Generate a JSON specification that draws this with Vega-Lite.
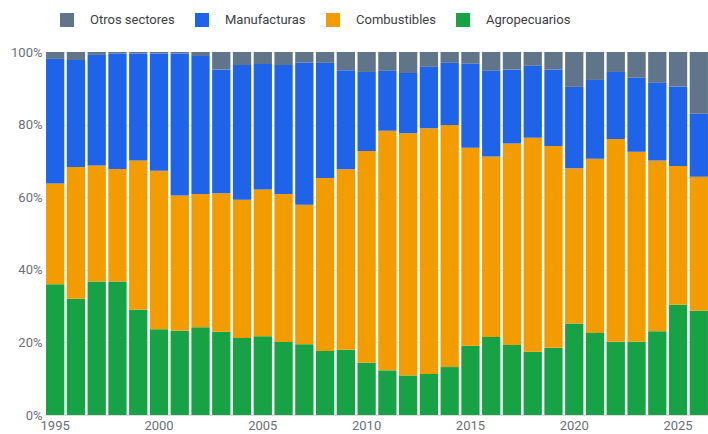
{
  "$schema": "https://vega.github.io/schema/vega-lite/v6.json",
  "width": 664,
  "height": 363,
  "autosize": {"type": "none"},
  "padding": {"left": 45, "top": 52, "right": 0, "bottom": 19},
  "config": {
    "font": "Roboto",
    "view": {"stroke": null},
    "axis": {"labelFont": "Roboto", "labelFontSize": 13, "labelColor": "#6b6f75", "ticks": false, "title": null},
    "legend": {"labelFont": "Roboto"}
  },
  "datasets": {
    "wide": [
      {"year": 1995, "A": 36.0, "C": 27.8, "M": 34.3, "O": 1.9},
      {"year": 1996, "A": 32.0, "C": 36.3, "M": 29.5, "O": 2.2},
      {"year": 1997, "A": 36.8, "C": 31.9, "M": 30.5, "O": 0.8},
      {"year": 1998, "A": 36.8, "C": 31.0, "M": 31.8, "O": 0.4},
      {"year": 1999, "A": 29.0, "C": 41.1, "M": 29.5, "O": 0.4},
      {"year": 2000, "A": 23.6, "C": 43.7, "M": 32.3, "O": 0.4},
      {"year": 2001, "A": 23.2, "C": 37.3, "M": 39.1, "O": 0.4},
      {"year": 2002, "A": 24.2, "C": 36.7, "M": 38.0, "O": 1.1},
      {"year": 2003, "A": 22.9, "C": 38.2, "M": 34.1, "O": 4.8},
      {"year": 2004, "A": 21.2, "C": 38.1, "M": 37.1, "O": 3.6},
      {"year": 2005, "A": 21.7, "C": 40.4, "M": 34.6, "O": 3.3},
      {"year": 2006, "A": 20.1, "C": 40.8, "M": 35.5, "O": 3.6},
      {"year": 2007, "A": 19.5, "C": 38.4, "M": 39.2, "O": 2.9},
      {"year": 2008, "A": 17.6, "C": 47.7, "M": 31.7, "O": 3.0},
      {"year": 2009, "A": 18.0, "C": 49.7, "M": 27.3, "O": 5.0},
      {"year": 2010, "A": 14.4, "C": 58.3, "M": 21.8, "O": 5.5},
      {"year": 2011, "A": 12.3, "C": 66.0, "M": 16.5, "O": 5.2},
      {"year": 2012, "A": 10.9, "C": 66.7, "M": 16.6, "O": 5.8},
      {"year": 2013, "A": 11.3, "C": 67.7, "M": 16.9, "O": 4.1},
      {"year": 2014, "A": 13.2, "C": 66.7, "M": 17.1, "O": 3.0},
      {"year": 2015, "A": 19.1, "C": 54.5, "M": 23.2, "O": 3.2},
      {"year": 2016, "A": 21.5, "C": 49.7, "M": 23.6, "O": 5.2},
      {"year": 2017, "A": 19.3, "C": 55.5, "M": 20.4, "O": 4.8},
      {"year": 2018, "A": 17.4, "C": 59.0, "M": 19.8, "O": 3.8},
      {"year": 2019, "A": 18.5, "C": 55.6, "M": 21.1, "O": 4.8},
      {"year": 2020, "A": 25.2, "C": 42.8, "M": 22.4, "O": 9.6},
      {"year": 2021, "A": 22.6, "C": 48.0, "M": 21.7, "O": 7.7},
      {"year": 2022, "A": 20.2, "C": 55.8, "M": 18.5, "O": 5.5},
      {"year": 2023, "A": 20.2, "C": 52.3, "M": 20.4, "O": 7.1},
      {"year": 2024, "A": 23.1, "C": 47.0, "M": 21.4, "O": 8.5},
      {"year": 2025, "A": 30.4, "C": 38.2, "M": 21.9, "O": 9.5},
      {"year": 2026, "A": 28.7, "C": 36.9, "M": 17.4, "O": 17.0}
    ]
  },
  "data": {"name": "wide"},
  "transform": [
    {"fold": ["A", "C", "M", "O"], "as": ["key", "value"]},
    {"lookup": "key", "from": {"data": {"values": [
      {"key": "A", "sector": "Agropecuarios", "ord": 1},
      {"key": "C", "sector": "Combustibles", "ord": 2},
      {"key": "M", "sector": "Manufacturas", "ord": 3},
      {"key": "O", "sector": "Otros sectores", "ord": 4}
    ]}, "key": "key", "fields": ["sector", "ord"]}}
  ],
  "mark": {"type": "bar"},
  "encoding": {
    "x": {
      "field": "year", "type": "ordinal",
      "scale": {"paddingInner": 0.12, "paddingOuter": 0.05},
      "axis": {"values": [1995, 2000, 2005, 2010, 2015, 2020, 2025], "labelAngle": 0, "domainColor": "#dadce0", "domainWidth": 1, "labelPadding": 4}
    },
    "y": {
      "field": "value", "type": "quantitative", "stack": "normalize",
      "scale": {"domain": [0, 1]},
      "axis": {"values": [0, 0.2, 0.4, 0.6, 0.8, 1], "format": ".0%", "domain": false, "gridColor": "#ececec", "labelPadding": 3}
    },
    "color": {
      "field": "sector", "type": "nominal",
      "scale": {
        "domain": ["Otros sectores", "Manufacturas", "Combustibles", "Agropecuarios"],
        "range": ["#607589", "#1f63e8", "#f39c00", "#17a246"]
      },
      "legend": {
        "title": null, "orient": "none", "legendX": 15, "legendY": -39,
        "direction": "horizontal", "symbolType": "square", "symbolSize": 196,
        "symbolStrokeWidth": 0, "labelFontSize": 13, "labelColor": "#3c4043",
        "labelOffset": 16, "columnPadding": 20
      }
    },
    "order": {"field": "ord", "type": "quantitative"}
  }
}
